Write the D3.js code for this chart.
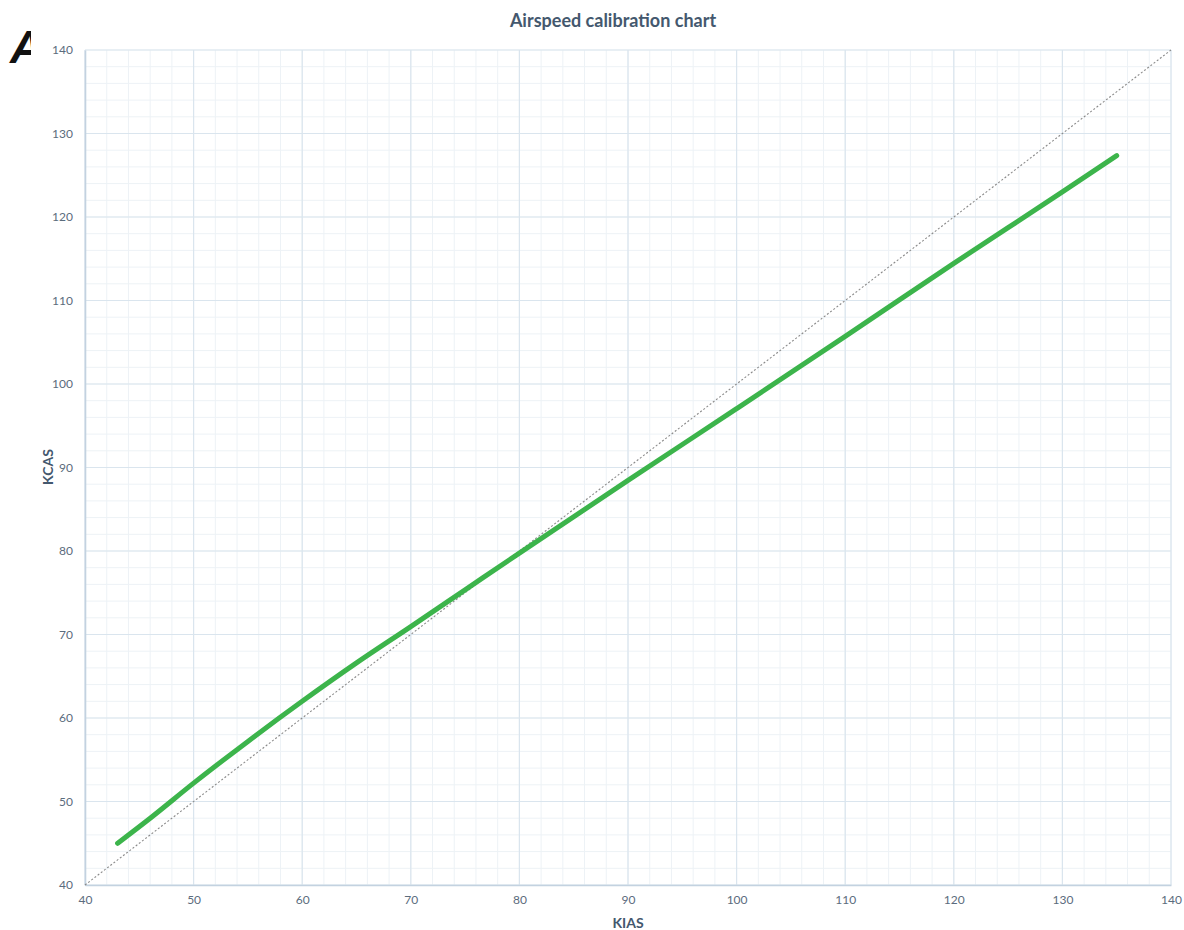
<!DOCTYPE html>
<meta charset="utf-8">
<script src="https://d3js.org/d3.v7.min.js"></script>

<style>
  body { margin: 0; background: #fff; }
  text { font-family: Lato, "Open Sans", sans-serif; }
</style>

<body>
<div id="vis"></div>

<script>
  // Calibration curve (knots)
  const kias = [43, 46, 50, 55, 60, 65, 70, 75, 80, 90, 100, 110, 120, 130, 135]
  const kcas = [45.0, 48.0, 52.2, 57.2, 62.0, 66.6, 70.95, 75.35, 79.75, 88.45, 97.05, 105.7, 114.45, 123.0, 127.35]

  // Reference line: KCAS = KIAS
  const refLine = [40, 140]

  const xTicks = [40, 50, 60, 70, 80, 90, 100, 110, 120, 130, 140]
  const yTicks = [40, 50, 60, 70, 80, 90, 100, 110, 120, 130, 140]
  const minorTicks = d3.range(40, 141, 2)

  const width = 1184
  const height = 930
  const plotLeft = 85, plotRight = 1171, plotTop = 50, plotBottom = 885

  let svg = d3.select('#vis').append('svg')
    .attr('width', width)
    .attr('height', height)

  let x = d3.scaleLinear().domain([40, 140]).range([plotLeft, plotRight])
  let y = d3.scaleLinear().domain([40, 140]).range([plotBottom, plotTop])

  // minor grid
  svg.append('g')
    .selectAll('line')
    .data(minorTicks)
    .enter()
    .append('line')
    .attr('x1', d => x(d)).attr('x2', d => x(d))
    .attr('y1', plotTop).attr('y2', plotBottom)
    .style('stroke', '#edf2f6')
    .style('stroke-width', 1)

  svg.append('g')
    .selectAll('line')
    .data(minorTicks)
    .enter()
    .append('line')
    .attr('y1', d => y(d)).attr('y2', d => y(d))
    .attr('x1', plotLeft).attr('x2', plotRight)
    .style('stroke', '#edf2f6')
    .style('stroke-width', 1)

  // major grid
  svg.append('g')
    .selectAll('line')
    .data(xTicks)
    .enter()
    .append('line')
    .attr('x1', d => x(d)).attr('x2', d => x(d))
    .attr('y1', plotTop).attr('y2', plotBottom)
    .style('stroke', '#dae5ee')
    .style('stroke-width', 1.2)

  svg.append('g')
    .selectAll('line')
    .data(yTicks)
    .enter()
    .append('line')
    .attr('y1', d => y(d)).attr('y2', d => y(d))
    .attr('x1', plotLeft).attr('x2', plotRight)
    .style('stroke', '#dae5ee')
    .style('stroke-width', 1.2)

  // axes
  svg.append('g')
    .attr('transform', 'translate(0,' + plotBottom + ')')
    .call(d3.axisBottom(x).tickValues(xTicks).tickSize(0).tickPadding(10))
  svg.append('g')
    .attr('transform', 'translate(' + plotLeft + ',0)')
    .call(d3.axisLeft(y).tickValues(yTicks).tickSize(0).tickPadding(12))

  svg.selectAll('.domain')
    .style('stroke', '#c3d2e0')
    .style('stroke-width', 1.6)
  svg.selectAll('.tick text')
    .style('font-family', 'Lato, sans-serif')
    .style('font-size', '12px')
    .style('fill', '#5b6c7d')

  // 1:1 reference
  svg.append('line')
    .attr('x1', x(refLine[0])).attr('y1', y(refLine[0]))
    .attr('x2', x(refLine[1])).attr('y2', y(refLine[1]))
    .style('stroke', '#8a8a8a')
    .style('stroke-width', 1.1)
    .style('stroke-dasharray', '2,2')

  // calibration curve
  let line = d3.line()
    .x(d => x(d[0]))
    .y(d => y(d[1]))
    .curve(d3.curveMonotoneX)

  svg.append('path')
    .datum(kias.map((k, i) => [k, kcas[i]]))
    .attr('d', line)
    .attr('fill', 'none')
    .style('stroke', '#3cb44b')
    .style('stroke-width', 5)
    .style('stroke-linecap', 'round')

  // title and axis labels
  svg.append('text')
    .attr('x', 613).attr('y', 27)
    .attr('text-anchor', 'middle')
    .style('font-size', '18px')
    .style('font-weight', 'bold')
    .style('fill', '#44586e')
    .text('Airspeed calibration chart')

  svg.append('text')
    .attr('x', 628).attr('y', 928)
    .attr('text-anchor', 'middle')
    .style('font-size', '14px')
    .style('font-weight', 'bold')
    .style('fill', '#44586e')
    .text('KIAS')

  svg.append('text')
    .attr('transform', 'translate(53,467) rotate(-90)')
    .attr('text-anchor', 'middle')
    .style('font-size', '14px')
    .style('font-weight', 'bold')
    .style('fill', '#44586e')
    .text('KCAS')

  // panel letter, cut off on the right as in the source figure
  svg.append('clipPath').attr('id', 'letterClip')
    .append('rect').attr('x', 0).attr('y', 0).attr('width', 31).attr('height', 80)

  svg.append('text')
    .attr('x', 10).attr('y', 63)
    .attr('clip-path', 'url(#letterClip)')
    .style('font-family', '"Liberation Sans", sans-serif')
    .style('font-size', '46px')
    .style('font-weight', 'bold')
    .style('font-style', 'italic')
    .style('fill', '#111')
    .text('A')
</script>
</body>
